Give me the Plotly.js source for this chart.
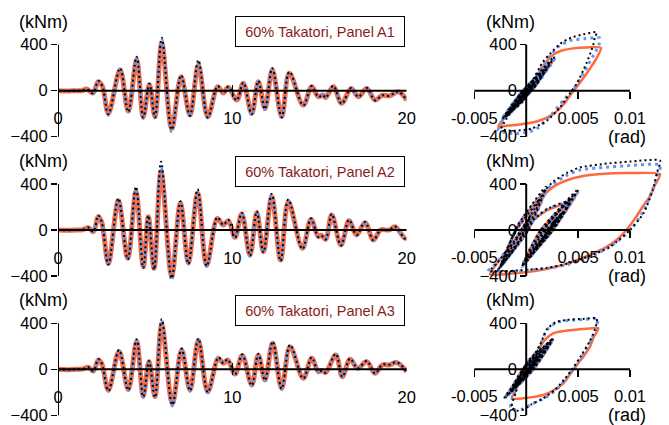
<!DOCTYPE html>
<html><head><meta charset="utf-8">
<script src="https://cdn.plot.ly/plotly-3.0.1.min.js"></script>
<style>html,body{margin:0;padding:0;background:#fff}#chart{width:669px;height:425px}</style>
</head><body><div id="chart"></div>
<script>
// ---------- data ----------
const panelTitles = ['60% Takatori, Panel A1', '60% Takatori, Panel A2', '60% Takatori, Panel A3'];
const timeTicks = [0, 10, 20];
const momentTicks = [-400, 0, 400];
const rotTicks = [-0.005, 0.005, 0.01];
const rotTickText = ['-0.005', '0.005', '0.01'];

const timeA1 = [0,0.5,1.0,1.4,1.64,2.0,2.31,2.54,2.89,3.56,4.03,4.51,4.89,5.24,5.56,5.95,6.52,7.06,7.57,8.05,8.59,9.16,9.48,9.77,10.25,10.63,11.11,11.49,11.87,12.29,12.83,13.27,14.07,14.55,14.93,15.2,15.35,15.79,16.27,16.81,17.23,17.71,18.18,18.6,19.0,19.52,20];
const orangeA1 = [0,-3,0,2,15,-20,78,40,-197,180,-177,267,-226,55,-226,412,-328,122,-212,223,-226,35,-20,29,-81,64,-197,78,-154,180,-226,151,-125,35,-52,-38,-60,35,-110,20,-52,20,-81,-40,-45,-9,-81];
const blueA1 = [0,-3,0,2,15,-22,82,40,-215,188,-190,282,-242,58,-240,440,-357,128,-222,245,-240,38,-22,32,-88,68,-212,82,-165,190,-242,160,-132,38,-56,-38,-64,38,-118,22,-56,22,-86,-40,-45,-8,-86];
const blackA1 = [0,-3,0,2,16,-22,85,40,-205,196,-185,296,-232,60,-232,461,-340,135,-218,267,-232,40,-20,34,-84,70,-205,84,-160,196,-232,165,-128,40,-54,-38,-62,42,-114,24,-54,24,-84,-40,-45,-8,-84];

const timeA2 = [0,0.5,1.0,1.4,1.74,2.03,2.31,2.5,2.89,3.46,4.0,4.47,4.89,5.18,5.51,5.91,6.52,7.02,7.48,8.01,8.53,9.14,9.48,9.77,10.15,10.54,11.01,11.40,11.78,12.26,12.77,13.21,14.02,14.51,14.93,15.1,15.35,15.70,16.23,16.69,17.13,17.61,18.09,18.5,19.0,19.33,19.9,20];
const orangeA2 = [0,-3,0,2,20,-15,116,72,-290,255,-246,333,-319,116,-333,507,-400,232,-284,319,-304,101,43,81,-64,139,-217,151,-188,290,-261,246,-159,93,-58,-45,-81,130,-130,81,-43,64,-87,0,0,29,-72,-60];
const blueA2 = [0,-3,0,2,21,-16,122,74,-305,265,-258,350,-335,122,-350,540,-435,242,-298,335,-318,106,45,85,-68,146,-228,158,-198,305,-274,258,-167,98,-61,-47,-85,136,-137,85,-45,67,-91,0,0,30,-76,-62];
const blackA2 = [0,-3,0,2,22,-16,126,74,-300,275,-255,377,-330,126,-345,594,-420,250,-295,354,-315,110,45,88,-66,150,-225,162,-195,315,-270,265,-165,100,-60,-46,-83,140,-135,88,-44,70,-90,0,0,31,-75,-61];

const timeA3 = [0,0.5,1.0,1.4,1.74,2.03,2.31,2.5,2.89,3.5,4.03,4.51,4.89,5.22,5.56,5.95,6.56,7.09,7.57,8.05,8.59,9.2,9.48,9.73,10.15,10.57,11.11,11.49,11.87,12.31,12.83,13.31,14.07,14.55,14.93,15.15,15.35,15.93,16.31,16.75,17.19,17.71,18.18,18.6,19.0,19.43,20];
const orangeA3 = [0,-3,0,2,17,-15,81,52,-180,154,-174,241,-232,67,-238,386,-296,168,-180,249,-194,96,52,81,-41,119,-136,125,-93,226,-165,197,-78,96,-20,-10,-29,125,-64,87,9,67,-35,38,38,58,-20];
const blueA3 = [0,-3,0,2,18,-16,85,54,-192,162,-185,255,-246,70,-252,425,-320,176,-190,262,-205,100,54,85,-44,125,-144,131,-98,238,-174,207,-82,100,-22,-11,-31,131,-68,91,9,70,-37,40,40,61,-22];
const blackA3 = [0,-3,0,2,18,-16,88,54,-188,168,-182,262,-240,72,-245,435,-310,180,-186,268,-200,103,54,87,-43,128,-141,134,-96,242,-170,212,-80,103,-21,-11,-30,134,-66,93,9,72,-36,40,40,62,-21];

// hysteresis loops: [rotation (rad), moment (kNm)]
const loopA1Orange = [[0,0],[0.00084,78],[-0.00012,-60],[-0.00178,-197],[-0.00033,-8],[0.00181,180],[0.00045,0],[-0.00159,-177],[0.00018,45],[0.00264,267],[0.00064,20],[-0.00205,-226],[-0.00106,-85],[0.00062,55],[-0.00036,-85],[-0.00215,-236],[-0.0010,-110],[0.0005,60],[0.0016,210],[0.0024,300],[0.0033,345],[0.0045,368],[0.0058,376],[0.0072,372],[0.0067,270],[0.0059,160],[0.0051,60],[0.0044,-20],[0.0036,-120],[0.0025,-210],[0.0010,-268],[-0.0008,-296],[-0.0020,-306],[-0.0027,-313],[-0.0021,-235],[-0.0009,-105],[0.0004,40],[0.0012,122],[-0.0002,-40],[-0.0019,-212],[-0.0006,-30],[0.0022,223],[0.0008,30],[-0.0022,-226],[-0.0009,-100],[0.0003,35],[-0.0004,-20],[-0.0008,-81],[0.0002,0],[0.0007,64],[-0.0003,-60],[-0.0018,-197],[-0.0004,-20],[0.0008,78],[-0.0002,-40],[-0.0014,-154],[0.0002,0],[0.0018,180],[0.0004,0],[-0.0021,-226],[-0.0005,-20],[0.0015,151],[-0.0011,-125],[0.0004,35],[-0.0005,-52],[0.0002,0]];
const loopA1Blue = [[0,0],[0.0009,85],[-0.0001,-60],[-0.0019,-215],[-0.0004,-10],[0.0019,195],[0.0005,0],[-0.0017,-190],[0.0002,45],[0.0028,285],[0.0007,20],[-0.0022,-245],[-0.0011,-90],[0.0007,65],[-0.0003,-90],[-0.0023,-250],[-0.0011,-120],[0.0004,50],[0.0016,220],[0.0023,305],[0.0032,390],[0.0042,435],[0.0056,452],[0.0071,458],[0.0070,400],[0.0066,325],[0.0060,230],[0.0055,151],[0.0045,6],[0.0036,-81],[0.0025,-200],[0.0012,-320],[0.0003,-357],[-0.0008,-372],[-0.0016,-371],[-0.0022,-360],[-0.0027,-342],[-0.0021,-250],[-0.0009,-110],[0.0004,40],[0.0013,130],[-0.0001,-40],[-0.0020,-225],[-0.0006,-30],[0.0023,240],[0.0008,30],[-0.0023,-245],[-0.0010,-100],[0.0003,38],[-0.0004,-20],[-0.0009,-88],[0.0002,0],[0.0008,70],[-0.0003,-60],[-0.0019,-210],[-0.0004,-20],[0.0009,85],[-0.0002,-40],[-0.0015,-165],[0.0002,0],[0.0019,195],[0.0004,0],[-0.0023,-240],[-0.0005,-20],[0.0016,160],[-0.0012,-135],[0.0004,38],[-0.0005,-55],[0.0001,0]];
const loopA1Black = [[0,0],[0.0009,88],[-0.0001,-62],[-0.0018,-208],[-0.0004,-8],[0.0020,200],[0.0005,0],[-0.0016,-186],[0.0002,46],[0.0027,296],[0.0007,20],[-0.0021,-235],[-0.0010,-88],[0.0007,60],[-0.0003,-88],[-0.0022,-240],[-0.0010,-115],[0.0004,55],[0.0016,250],[0.0024,330],[0.0033,410],[0.0043,460],[0.0055,490],[0.0068,508],[0.0066,460],[0.0065,412],[0.0062,330],[0.0058,238],[0.0049,64],[0.0042,-23],[0.0033,-140],[0.0020,-260],[0.0005,-330],[-0.0010,-348],[-0.0018,-345],[-0.0024,-330],[-0.0019,-245],[-0.0008,-105],[0.0004,45],[0.0013,135],[-0.0001,-40],[-0.0019,-218],[-0.0005,-28],[0.0023,248],[0.0008,30],[-0.0022,-235],[-0.0009,-98],[0.0003,40],[-0.0004,-20],[-0.0008,-84],[0.0002,0],[0.0008,70],[-0.0003,-58],[-0.0018,-205],[-0.0004,-20],[0.0009,84],[-0.0002,-40],[-0.0014,-160],[0.0002,0],[0.0019,196],[0.0004,0],[-0.0022,-232],[-0.0005,-20],[0.0016,165],[-0.0011,-128],[0.0004,40],[-0.0005,-54],[0.0001,0]];

const loopA2Orange = [[0,0],[0.0004,116],[-0.0006,-90],[-0.0023,-290],[-0.0011,-20],[0.0013,255],[0.0000,0],[-0.0020,-246],[-0.0008,40],[0.0018,333],[0.0002,0],[-0.0025,-319],[-0.0012,-100],[0.0004,116],[-0.0008,-110],[-0.0026,-333],[-0.0016,-180],[-0.0004,0],[0.0008,170],[0.0017,300],[0.0026,375],[0.0040,435],[0.0055,470],[0.0075,490],[0.0100,495],[0.0129,485],[0.0124,390],[0.0119,290],[0.0112,200],[0.0106,116],[0.0098,15],[0.0087,-87],[0.0075,-160],[0.0061,-217],[0.0045,-275],[0.0029,-319],[0.0010,-355],[-0.0012,-377],[-0.0035,-385],[-0.0028,-290],[-0.0012,-100],[0.0004,60],[0.0020,170],[0.0041,232],[0.0025,0],[-0.0002,-284],[0.0014,0],[0.0049,319],[0.0027,20],[-0.0003,-304],[0.0012,-80],[0.0030,101],[0.0024,43],[0.0029,81],[0.0017,-64],[0.0034,139],[0.0020,-40],[0.0004,-217],[0.0020,-20],[0.0035,151],[0.0022,-10],[0.0006,-188],[0.0020,40],[0.0046,290],[0.0026,0],[0.0000,-261],[0.0016,0],[0.0042,246],[0.0024,0],[0.0009,-159],[0.0030,93],[0.0017,-58],[0.0015,-81],[0.0033,130],[0.0012,-130],[0.0029,81],[0.0018,-43],[0.0027,64],[0.0015,-87],[0.0022,0],[0.0025,29],[0.0016,-72]];
const loopA2Blue = [[0,0],[0.0004,122],[-0.0006,-95],[-0.0024,-305],[-0.0011,-20],[0.0014,265],[0.0000,0],[-0.0021,-258],[-0.0008,42],[0.0019,350],[0.0002,0],[-0.0026,-335],[-0.0012,-105],[0.0004,122],[-0.0008,-115],[-0.0027,-350],[-0.0016,-185],[-0.0004,0],[0.0008,180],[0.0017,320],[0.0026,400],[0.0040,480],[0.0052,522],[0.0075,545],[0.0100,560],[0.0129,565],[0.0127,470],[0.0122,360],[0.0114,180],[0.0103,30],[0.0092,-70],[0.0078,-160],[0.0060,-240],[0.0040,-300],[0.0020,-333],[-0.0005,-355],[-0.0025,-365],[-0.0037,-360],[-0.0029,-290],[-0.0012,-100],[0.0004,62],[0.0020,178],[0.0042,242],[0.0025,0],[-0.0003,-298],[0.0014,0],[0.0050,335],[0.0027,20],[-0.0004,-318],[0.0012,-82],[0.0030,106],[0.0024,45],[0.0029,85],[0.0017,-68],[0.0034,146],[0.0020,-40],[0.0003,-228],[0.0020,-20],[0.0036,158],[0.0022,-10],[0.0005,-198],[0.0020,40],[0.0047,305],[0.0026,0],[-0.0001,-274],[0.0016,0],[0.0043,258],[0.0024,0],[0.0008,-167],[0.0030,98],[0.0017,-61],[0.0015,-85],[0.0034,136],[0.0012,-137],[0.0029,85],[0.0018,-45],[0.0027,67],[0.0015,-91],[0.0022,0],[0.0025,30],[0.0016,-76]];
const loopA2Black = [[0,0],[0.0004,126],[-0.0006,-94],[-0.0024,-300],[-0.0011,-20],[0.0014,275],[0.0000,0],[-0.0021,-255],[-0.0008,42],[0.0019,377],[0.0002,0],[-0.0026,-330],[-0.0012,-104],[0.0004,126],[-0.0008,-114],[-0.0027,-345],[-0.0016,-182],[-0.0004,0],[0.0008,185],[0.0017,330],[0.0026,420],[0.0040,500],[0.0052,545],[0.0075,575],[0.0100,595],[0.0129,603],[0.0126,500],[0.0122,348],[0.0113,145],[0.0100,0],[0.0081,-145],[0.0060,-230],[0.0040,-290],[0.0020,-330],[-0.0005,-350],[-0.0025,-360],[-0.0035,-355],[-0.0028,-288],[-0.0012,-100],[0.0004,64],[0.0020,182],[0.0042,250],[0.0025,0],[-0.0003,-295],[0.0014,0],[0.0050,354],[0.0027,20],[-0.0004,-315],[0.0012,-82],[0.0030,110],[0.0024,45],[0.0029,88],[0.0017,-66],[0.0034,150],[0.0020,-40],[0.0003,-225],[0.0020,-20],[0.0036,162],[0.0022,-10],[0.0005,-195],[0.0020,40],[0.0047,315],[0.0026,0],[-0.0001,-270],[0.0016,0],[0.0043,265],[0.0024,0],[0.0008,-165],[0.0030,100],[0.0017,-60],[0.0015,-83],[0.0034,140],[0.0012,-135],[0.0029,88],[0.0018,-44],[0.0027,70],[0.0015,-90],[0.0022,0],[0.0025,31],[0.0016,-75]];

const loopA3Orange = [[0,0],[0.0009,81],[0.0000,-50],[-0.0014,-180],[-0.0004,-10],[0.0016,154],[0.0005,0],[-0.0014,-174],[0.0000,40],[0.0024,241],[0.0006,0],[-0.0019,-232],[-0.0008,-80],[0.0008,67],[-0.0003,-80],[-0.0020,-238],[-0.0010,-110],[0.0002,40],[0.0013,190],[0.0018,255],[0.0026,313],[0.0036,332],[0.0045,342],[0.0058,352],[0.00695,357],[0.0065,280],[0.00615,197],[0.0055,110],[0.00487,37],[0.0042,-45],[0.00357,-122],[0.0026,-185],[0.00165,-224],[0.0006,-242],[-0.0003,-252],[-0.0014,-252],[-0.0010,-180],[-0.0006,-64],[0.0001,60],[0.0014,168],[0.0004,0],[-0.0013,-180],[0.0000,30],[0.0025,249],[0.0007,0],[-0.0014,-194],[-0.0001,-20],[0.0012,96],[0.0008,52],[0.0011,81],[0.0000,-41],[0.0014,119],[0.0000,-20],[-0.0009,-136],[0.0003,0],[0.0015,125],[0.0004,0],[-0.0006,-93],[0.0005,50],[0.0023,226],[0.0007,0],[-0.0012,-165],[0.0000,20],[0.0020,197],[0.0004,0],[-0.0005,-78],[0.0011,96],[0.0000,-20],[-0.0001,-29],[0.0013,125],[-0.0004,-64],[0.0010,87],[0.0003,9],[0.0008,67],[-0.0002,-35],[0.0006,38],[0.0002,0]];
const loopA3Blue = [[0,0],[0.0009,85],[0.0000,-52],[-0.0015,-192],[-0.0004,-10],[0.0017,162],[0.0005,0],[-0.0015,-185],[0.0000,42],[0.0025,255],[0.0006,0],[-0.0020,-246],[-0.0008,-84],[0.0008,70],[-0.0003,-84],[-0.0021,-252],[-0.0010,-115],[0.0002,45],[0.0013,200],[0.0020,342],[0.0029,405],[0.0040,425],[0.0055,433],[0.0069,437],[0.0067,360],[0.0063,260],[0.0055,130],[0.0047,20],[0.0039,-80],[0.0030,-170],[0.0018,-250],[0.0006,-300],[-0.0003,-345],[-0.0010,-355],[-0.0015,-330],[-0.0011,-200],[-0.0006,-70],[0.0001,62],[0.0014,176],[0.0004,0],[-0.0014,-190],[0.0000,30],[0.0026,262],[0.0007,0],[-0.0015,-205],[-0.0001,-20],[0.0012,100],[0.0008,54],[0.0011,85],[0.0000,-44],[0.0014,125],[0.0000,-20],[-0.0010,-144],[0.0003,0],[0.0015,131],[0.0004,0],[-0.0006,-98],[0.0005,50],[0.0024,238],[0.0007,0],[-0.0013,-174],[0.0000,20],[0.0021,207],[0.0004,0],[-0.0005,-82],[0.0011,100],[0.0000,-22],[-0.0001,-31],[0.0013,131],[-0.0004,-68],[0.0010,91],[0.0003,9],[0.0008,70],[-0.0002,-37],[0.0006,40],[0.0002,0]];
const loopA3Black = [[0,0],[0.0009,88],[0.0000,-52],[-0.0015,-188],[-0.0004,-10],[0.0017,168],[0.0005,0],[-0.0015,-182],[0.0000,42],[0.0025,262],[0.0006,0],[-0.0020,-240],[-0.0008,-84],[0.0008,72],[-0.0003,-84],[-0.0021,-245],[-0.0010,-112],[0.0002,46],[0.0013,205],[0.0020,350],[0.0029,412],[0.0040,430],[0.0055,438],[0.0068,442],[0.0066,340],[0.0061,240],[0.0053,120],[0.0045,10],[0.0037,-85],[0.0028,-175],[0.0016,-255],[0.0005,-305],[-0.0003,-350],[-0.0009,-360],[-0.0014,-330],[-0.0010,-200],[-0.0006,-70],[0.0001,64],[0.0014,180],[0.0004,0],[-0.0014,-186],[0.0000,30],[0.0026,268],[0.0007,0],[-0.0015,-200],[-0.0001,-20],[0.0012,103],[0.0008,54],[0.0011,87],[0.0000,-43],[0.0014,128],[0.0000,-20],[-0.0010,-141],[0.0003,0],[0.0015,134],[0.0004,0],[-0.0006,-96],[0.0005,50],[0.0024,242],[0.0007,0],[-0.0013,-170],[0.0000,20],[0.0021,212],[0.0004,0],[-0.0005,-80],[0.0011,103],[0.0000,-21],[-0.0001,-30],[0.0013,134],[-0.0004,-66],[0.0010,93],[0.0003,9],[0.0008,72],[-0.0002,-36],[0.0006,40],[0.0002,0]];

// ---------- styling / layout ----------
const W = 669, H = 425;
const FONT = 'Liberation Sans, Arial, sans-serif';
const ORANGE = '#FF6A3D', BLUE = '#6495ED', BLACK = '#000000';
const zeroPx = [90.7, 230, 369.3];          // pixel row of moment = 0
const yRanges = [[-480, 640], [-500, 680], [-470, 600]];
const pxPerUnit = 46 / 400;
const tX0 = 58, tX1 = 406.7;                // time axis ends (px)
const rotRange = [-0.0055, 0.0135];
const rotZeroPx = 526.2, rotPxPerUnit = 10380;

const series = [
  {t: timeA1, o: orangeA1, b: blueA1, k: blackA1, lo: loopA1Orange, lb: loopA1Blue, lk: loopA1Black},
  {t: timeA2, o: orangeA2, b: blueA2, k: blackA2, lo: loopA2Orange, lb: loopA2Blue, lk: loopA2Black},
  {t: timeA3, o: orangeA3, b: blueA3, k: blackA3, lo: loopA3Orange, lb: loopA3Blue, lk: loopA3Black}
];

const traces = [];
const layout = {
  width: W, height: H, margin: {l: 0, r: 0, t: 0, b: 0},
  paper_bgcolor: '#fff', plot_bgcolor: 'rgba(0,0,0,0)',
  showlegend: false, font: {family: FONT, size: 16, color: '#000'},
  shapes: [], annotations: []
};

series.forEach((s, i) => {
  const n = i + 1, m = i + 4;
  const xa = 'x' + (n === 1 ? '' : n), ya = 'y' + (n === 1 ? '' : n);
  const xb = 'x' + m, yb = 'y' + m;
  const Z = zeroPx[i];
  const [lo, hi] = yRanges[i];
  const dom = [1 - (Z - lo * pxPerUnit) / H, 1 - (Z - hi * pxPerUnit) / H];

  // time histories
  traces.push({x: s.t, y: s.o, xaxis: xa, yaxis: ya, mode: 'lines', line: {color: ORANGE, width: 5, shape: 'spline', smoothing: 1}, hoverinfo: 'skip'});
  traces.push({x: s.t, y: s.b, xaxis: xa, yaxis: ya, mode: 'lines', line: {color: BLUE, width: 3, shape: 'spline', smoothing: 1, dash: '3px,3px'}, hoverinfo: 'skip'});
  traces.push({x: s.t, y: s.k, xaxis: xa, yaxis: ya, mode: 'lines', line: {color: BLACK, width: 2, shape: 'spline', smoothing: 1, dash: '2px,3px'}, hoverinfo: 'skip'});
  // hysteresis loops
  traces.push({x: s.lo.map(p => p[0]), y: s.lo.map(p => p[1]), xaxis: xb, yaxis: yb, mode: 'lines', line: {color: ORANGE, width: 2.5, shape: 'spline', smoothing: 0.6}, hoverinfo: 'skip'});
  traces.push({x: s.lb.map(p => p[0]), y: s.lb.map(p => p[1]), xaxis: xb, yaxis: yb, mode: 'lines', line: {color: BLUE, width: 3, shape: 'spline', smoothing: 0.6, dash: '3px,4px'}, hoverinfo: 'skip'});
  traces.push({x: s.lk.map(p => p[0]), y: s.lk.map(p => p[1]), xaxis: xb, yaxis: yb, mode: 'lines', line: {color: BLACK, width: 2, shape: 'spline', smoothing: 0.6, dash: '2px,3px'}, hoverinfo: 'skip'});

  const tickFont = {family: FONT, size: 16.5, color: '#000'};
  const axKey = k => (k === 1 ? '' : k);
  layout['xaxis' + axKey(n)] = {
    domain: [tX0 / W, tX1 / W], range: [0, 20], anchor: 'free', position: 1 - (Z + 6) / H,
    showline: false, showgrid: false, zeroline: false,
    tickmode: 'array', tickvals: timeTicks, ticks: 'inside', ticklen: 12, tickwidth: 1.5, tickcolor: '#000',
    tickfont: tickFont, ticklabelstandoff: 10, fixedrange: true
  };
  layout['yaxis' + axKey(n)] = {
    domain: dom, range: [lo, hi], anchor: xa,
    showline: false, showgrid: false, zeroline: false,
    tickmode: 'array', tickvals: momentTicks, ticks: 'outside', ticklen: 6, tickwidth: 1.5, tickcolor: '#000',
    tickfont: tickFont, fixedrange: true
  };
  layout['xaxis' + m] = {
    domain: [(rotZeroPx + rotRange[0] * rotPxPerUnit) / W, (rotZeroPx + rotRange[1] * rotPxPerUnit) / W],
    range: rotRange, anchor: 'free', position: 1 - Z / H,
    showline: false, showgrid: false, zeroline: false,
    tickmode: 'array', tickvals: rotTicks, ticktext: rotTickText, ticks: 'outside', ticklen: 7, tickwidth: 1.5, tickcolor: '#000',
    tickfont: tickFont, ticklabelstandoff: 5, fixedrange: true
  };
  layout['yaxis' + m] = {
    domain: dom, range: [lo, hi], anchor: 'free', position: rotZeroPx / W,
    showline: false, showgrid: false, zeroline: false,
    tickmode: 'array', tickvals: momentTicks, ticks: 'outside', ticklen: 6, tickwidth: 1.5, tickcolor: '#000',
    tickfont: tickFont, fixedrange: true
  };

  const axLine = {color: '#000', width: 2};
  layout.shapes.push({type: 'line', xref: xa, yref: ya, x0: 0, x1: 0, y0: momentTicks[0], y1: momentTicks[2], line: axLine, layer: 'above'});
  layout.shapes.push({type: 'line', xref: xa, yref: ya, x0: 0, x1: 20, y0: 0, y1: 0, line: axLine, layer: 'above'});
  layout.shapes.push({type: 'line', xref: xb, yref: yb, x0: 0, x1: 0, y0: momentTicks[0], y1: momentTicks[2], line: axLine, layer: 'above'});
  layout.shapes.push({type: 'line', xref: xb, yref: yb, x0: rotTicks[0], x1: rotTicks[2], y0: 0, y1: 0, line: axLine, layer: 'above'});

  const unitFont = {family: FONT, size: 18, color: '#000'};
  layout.annotations.push({xref: 'paper', yref: 'paper', x: 43 / W, y: 1 - (Z - 69) / H, text: '(kNm)', showarrow: false, font: unitFont, xanchor: 'center', yanchor: 'middle'});
  layout.annotations.push({xref: 'paper', yref: 'paper', x: 511 / W, y: 1 - (Z - 69) / H, text: '(kNm)', showarrow: false, font: unitFont, xanchor: 'center', yanchor: 'middle'});
  layout.annotations.push({xref: 'paper', yref: 'paper', x: 627 / W, y: 1 - (Z + 46) / H, text: '(rad)', showarrow: false, font: unitFont, xanchor: 'center', yanchor: 'middle'});
  layout.annotations.push({xref: 'paper', yref: 'paper', x: 320 / W, y: 1 - (Z - 59) / H, text: panelTitles[i], showarrow: false,
    font: {family: FONT, size: 14.5, color: '#8B1A1A'}, bgcolor: '#fff', bordercolor: '#000', borderwidth: 1, borderpad: 6,
    width: 156, height: 17, xanchor: 'center', yanchor: 'middle'});
});

Plotly.newPlot('chart', traces, layout, {staticPlot: true, displayModeBar: false});
</script>
</body></html>
